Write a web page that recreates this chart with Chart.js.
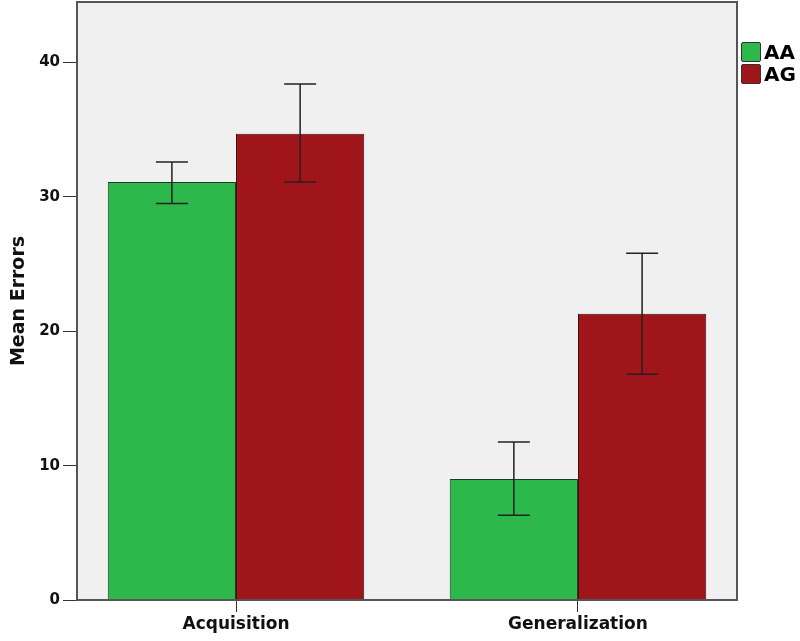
<!DOCTYPE html>
<html>
<head>
<meta charset="utf-8">
<script src="https://cdn.jsdelivr.net/npm/chart.js@4"></script>
<style>
  html, body { margin: 0; padding: 0; background: #fff; }
  #wrap { position: relative; width: 800px; height: 641px; }
  #legend { position: absolute; left: 741px; top: 41px; font: bold 20px "DejaVu Sans", sans-serif; color: #000; }
  #legend div { display: flex; align-items: center; height: 22px; }
  #legend span.sw { display: inline-block; width: 18px; height: 18px; border: 1px solid #333; margin-right: 3px; border-radius: 2px; }
</style>
</head>
<body>
<div id="wrap">
  <canvas id="c" width="800" height="641"></canvas>
  <div id="legend">
    <div><span class="sw" style="background:#2db84b"></span>AA</div>
    <div><span class="sw" style="background:#a0151a"></span>AG</div>
  </div>
</div>
<script>
const categories = ["Acquisition", "Generalization"];
const seriesNames = ["AA", "AG"];
const aaMean = [31.1, 9.0];
const agMean = [34.7, 21.3];
const aaLow = [29.5, 6.3];
const aaHigh = [32.6, 11.75];
const agLow = [31.1, 16.8];
const agHigh = [38.4, 25.8];
const yTicks = [0, 10, 20, 30, 40];

const errLow = [aaLow, agLow];
const errHigh = [aaHigh, agHigh];

const frame = {
  id: "frame",
  afterLayout(chart) {
    // groups sit a little wider apart than plain category slots
    const x = chart.scales.x;
    x._startValue = -0.465;
    x._valueRange = 1.93;
  },
  beforeDraw(chart) {
    const { ctx, chartArea: a } = chart;
    ctx.save();
    ctx.fillStyle = "#f0f0f0";
    ctx.fillRect(a.left, a.top, a.right - a.left, a.bottom - a.top);
    ctx.restore();
  },
  afterDatasetsDraw(chart) {
    const { ctx, chartArea: a, scales } = chart;
    ctx.save();
    ctx.strokeStyle = "#222";
    ctx.lineWidth = 1.5;
    chart.data.datasets.forEach((ds, i) => {
      chart.getDatasetMeta(i).data.forEach((bar, j) => {
        const x = bar.x;
        const y1 = scales.y.getPixelForValue(errLow[i][j]);
        const y2 = scales.y.getPixelForValue(errHigh[i][j]);
        ctx.beginPath();
        ctx.moveTo(x, y1); ctx.lineTo(x, y2);
        ctx.moveTo(x - 16, y1); ctx.lineTo(x + 16, y1);
        ctx.moveTo(x - 16, y2); ctx.lineTo(x + 16, y2);
        ctx.stroke();
      });
    });
    ctx.strokeStyle = "#555";
    ctx.lineWidth = 2;
    ctx.strokeRect(a.left, a.top, a.right - a.left, a.bottom - a.top);
    ctx.restore();
  }
};

new Chart(document.getElementById("c"), {
  type: "bar",
  data: {
    labels: categories,
    datasets: [
      { label: seriesNames[0], data: aaMean, backgroundColor: "#2db84b", borderColor: "#1e3a22", borderWidth: 1 },
      { label: seriesNames[1], data: agMean, backgroundColor: "#a0151a", borderColor: "#3a1010", borderWidth: 1 },
    ],
  },
  options: {
    responsive: false,
    animation: false,
    layout: { padding: { top: 2, right: 63, left: 8, bottom: 0 } },
    datasets: { bar: { categoryPercentage: 0.75, barPercentage: 1 } },
    plugins: { legend: { display: false }, tooltip: { enabled: false } },
    scales: {
      x: {
        grid: { display: true, offset: false, drawOnChartArea: false, tickLength: 12, color: "#333" },
        border: { display: false },
        ticks: { color: "#111", font: { family: "DejaVu Sans", size: 17, weight: "bold" }, padding: 2 },
        afterFit(s) { s.height = 41; s.paddingLeft = 0; s.paddingRight = 0; },
      },
      y: {
        min: 0,
        max: 44.5,
        afterBuildTicks(s) { s.ticks = yTicks.map((v) => ({ value: v })); },
        grid: { display: true, drawOnChartArea: false, tickLength: 14, color: "#333" },
        border: { display: false },
        ticks: { color: "#111", font: { family: "DejaVu Sans", size: 15, weight: "bold" }, padding: 3 },
        title: { display: true, text: "Mean Errors", color: "#111", font: { family: "DejaVu Sans", size: 19, weight: "bold" }, padding: 0 },
        afterFit(s) { s.width = 69; s.paddingTop = 0; s.paddingBottom = 0; },
      },
    },
  },
  plugins: [frame],
});
</script>
</body>
</html>
